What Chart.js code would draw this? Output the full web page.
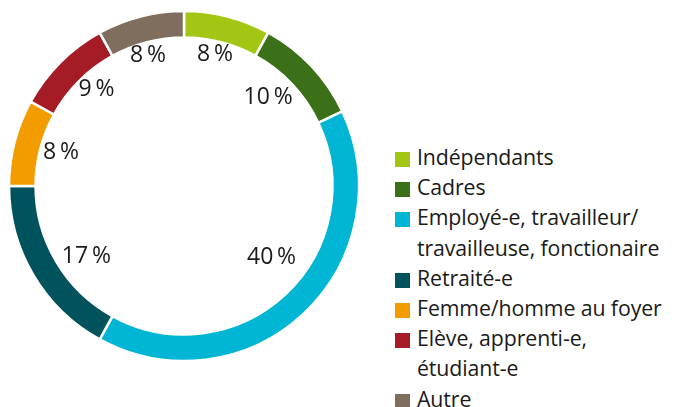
<!DOCTYPE html>
<html>
<head>
<meta charset="utf-8">
<script src="https://cdn.jsdelivr.net/npm/chart.js@4"></script>
<style>
  html, body { margin: 0; padding: 0; background: #fff; }
  body { width: 675px; height: 407px; position: relative; overflow: hidden;
         font-family: 'Open Sans', sans-serif; color: #1a1a1a; }
  #wrap { position: absolute; left: 0; top: 0; width: 368px; height: 372px; }
  #legend { position: absolute; left: 395px; top: 142px; font-size: 21.3px; line-height: 30.2px; letter-spacing: -0.1px; }
  .item { display: flex; align-items: flex-start; }
  .box { width: 15px; height: 15px; margin-top: 10px; margin-right: 7px; flex: none; }
</style>
</head>
<body>
<div id="wrap"><canvas id="donut"></canvas></div>
<div id="legend"></div>
<script>
// catégories (lignes de légende séparées par \n)
const CATEGORIES = ['Indépendants', 'Cadres', 'Employé-e, travailleur/\ntravailleuse, fonctionaire',
  'Retraité-e', 'Femme/homme au foyer', 'Elève, apprenti-e,\nétudiant-e', 'Autre'];
const SHARES = [8, 10, 40, 17, 8, 9, 8];
const COLORS = ['#a3c614', '#3b7019', '#00b6d4', '#00535c', '#f39c00', '#a51c27', '#7f6e5e'];

// petits décalages des étiquettes (px) par rapport au milieu de l'arc
const LABEL_NUDGE = [[0, -10], [-7, -3], [2, -20], [10, 7], [-2, -2], [1, -8], [-5, -9]];

const pctLabels = {
  id: 'pctLabels',
  afterDatasetsDraw(chart) {
    const ctx = chart.ctx;
    const meta = chart.getDatasetMeta(0);
    ctx.save();
    ctx.font = '23px "Open Sans"';
    ctx.fillStyle = '#1a1a1a';
    ctx.textAlign = 'center';
    ctx.textBaseline = 'middle';
    meta.data.forEach((arc, i) => {
      const a = (arc.startAngle + arc.endAngle) / 2;
      const r = 125;
      const x = arc.x + Math.cos(a) * r + LABEL_NUDGE[i][0];
      const y = arc.y + Math.sin(a) * r + LABEL_NUDGE[i][1];
      ctx.fillText(SHARES[i] + '\u2009%', x, y);
    });
    ctx.restore();
  }
};

new Chart(document.getElementById('donut'), {
  type: 'doughnut',
  data: {
    labels: CATEGORIES,
    datasets: [{
      data: SHARES,
      backgroundColor: COLORS,
      borderColor: '#fff',
      borderWidth: 2.5,
      radius: 175,
      cutout: 155
    }]
  },
  options: {
    responsive: true,
    maintainAspectRatio: false,
    animation: false,
    layout: {padding: 0},
    plugins: {
      legend: {display: false},
      tooltip: {enabled: false}
    }
  },
  plugins: [pctLabels]
});

// légende HTML (texte sur plusieurs lignes)
const legend = document.getElementById('legend');
CATEGORIES.forEach((c, i) => {
  const row = document.createElement('div');
  row.className = 'item';
  const box = document.createElement('span');
  box.className = 'box';
  box.style.background = COLORS[i];
  const txt = document.createElement('div');
  txt.innerHTML = c.split('\n').join('<br>');
  row.appendChild(box);
  row.appendChild(txt);
  legend.appendChild(row);
});
</script>
</body>
</html>
